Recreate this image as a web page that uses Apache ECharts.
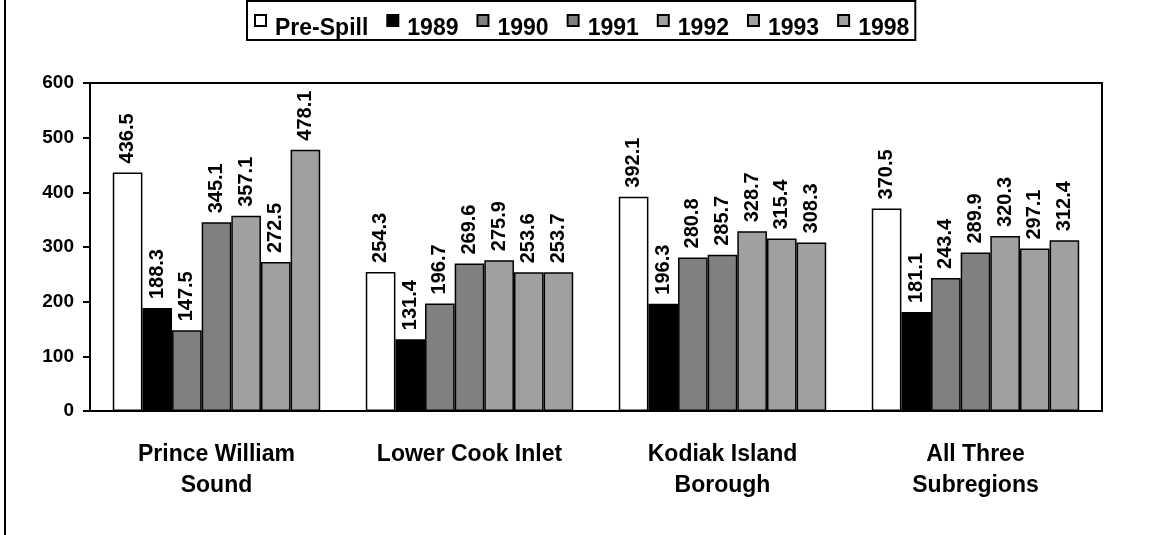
<!DOCTYPE html>
<html>
<head>
<meta charset="utf-8">
<script src="https://cdn.jsdelivr.net/npm/echarts@6/dist/echarts.min.js"></script>
<style>
  html, body { margin: 0; padding: 0; background: #fff; }
  #chart { width: 1151px; height: 535px; }
</style>
</head>
<body>
<div id="chart"></div>
<script>
// 地区（类别）
const regions = ['Prince William\nSound', 'Lower Cook Inlet', 'Kodiak Island\nBorough', 'All Three\nSubregions'];
// 各年份数据
const preSpill = [436.5, 254.3, 392.1, 370.5];
const y1989 = [188.3, 131.4, 196.3, 181.1];
const y1990 = [147.5, 196.7, 280.8, 243.4];
const y1991 = [345.1, 269.6, 285.7, 289.9];
const y1992 = [357.1, 275.9, 328.7, 320.3];
const y1993 = [272.5, 253.6, 315.4, 297.1];
const y1998 = [478.1, 253.7, 308.3, 312.4];
const yTicks = [0, 100, 200, 300, 400, 500, 600];

const FONT = '"Liberation Sans", Arial, sans-serif';

const seriesDefs = [
  { name: 'Pre-Spill', data: preSpill, color: '#ffffff' },
  { name: '1989', data: y1989, color: '#000000' },
  { name: '1990', data: y1990, color: '#808080' },
  { name: '1991', data: y1991, color: '#808080' },
  { name: '1992', data: y1992, color: '#a0a0a0' },
  { name: '1993', data: y1993, color: '#a0a0a0' },
  { name: '1998', data: y1998, color: '#a0a0a0' },
];

const myChart = echarts.init(document.getElementById('chart'));

const option = {
  animation: false,
  textStyle: { fontFamily: FONT },
  graphic: [
    {
      // 左侧边框线
      type: 'line',
      shape: { x1: 5, y1: 0, x2: 5, y2: 535 },
      style: { stroke: '#000', lineWidth: 2 },
    },
  ],
  legend: {
    left: 247,
    top: 1,
    padding: [0, 6, 0, 7],
    borderColor: '#000',
    borderWidth: 2,
    itemWidth: 11,
    itemHeight: 11,
    itemGap: 18,
    icon: 'rect',
    formatter: '{t|{name}}',
    textStyle: {
      fontFamily: FONT,
      fontSize: 23,
      fontWeight: 'bold',
      color: '#000',
      rich: {
        // 文字比图标略低
        t: {
          fontFamily: FONT,
          fontSize: 23,
          lineHeight: 23,
          fontWeight: 'bold',
          color: '#000',
          padding: [16, 0, 0, 4],
        },
      },
    },
    data: seriesDefs.map(s => s.name),
  },
  grid: {
    left: 90,
    top: 83,
    right: 49,
    bottom: 124,
    show: true,
    borderColor: '#000',
    borderWidth: 2,
    backgroundColor: 'transparent',
  },
  xAxis: {
    type: 'category',
    data: regions,
    axisLine: { lineStyle: { color: '#000', width: 2 } },
    axisTick: { inside: true, length: 5, lineStyle: { color: '#000', width: 2 } },
    axisLabel: {
      color: '#000',
      fontFamily: FONT,
      fontSize: 23,
      fontWeight: 'bold',
      lineHeight: 31,
      margin: 28,
      interval: 0,
    },
    splitLine: { show: false },
  },
  yAxis: {
    type: 'value',
    min: yTicks[0],
    max: yTicks[yTicks.length - 1],
    interval: 100,
    axisLine: { show: true, lineStyle: { color: '#000', width: 2 } },
    axisTick: { show: true, length: 7, lineStyle: { color: '#000', width: 2 } },
    axisLabel: {
      color: '#000',
      fontFamily: FONT,
      fontSize: 19,
      fontWeight: 'bold',
      margin: 16,
      padding: [10, 0, 0, 0],
    },
    splitLine: { show: false },
  },
  series: seriesDefs.map(s => ({
    name: s.name,
    type: 'bar',
    data: s.data,
    barGap: '0%',
    barCategoryGap: '18%',
    itemStyle: { color: s.color, borderColor: '#000', borderWidth: 1.5 },
    label: {
      show: true,
      position: 'top',
      rotate: 90,
      align: 'left',
      verticalAlign: 'middle',
      distance: 9,
      color: '#000',
      fontFamily: FONT,
      fontSize: 20,
      fontWeight: 'bold',
      formatter: p => p.value.toFixed(1),
    },
  })),
};

myChart.setOption(option);
</script>
</body>
</html>
